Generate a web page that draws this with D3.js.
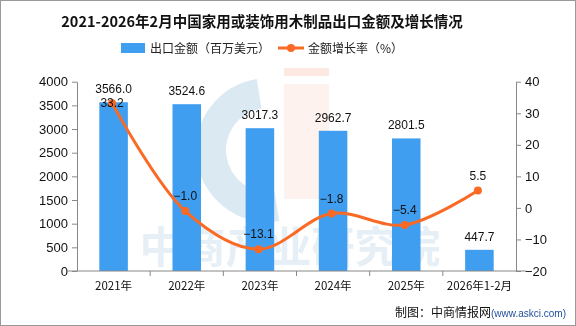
<!DOCTYPE html>
<html><head><meta charset="utf-8">
<script src="https://cdn.jsdelivr.net/npm/d3@7"></script>
<style>body{margin:0;background:#fff}svg{display:block}</style>
</head><body>
<script>
const categories = ["2021年","2022年","2023年","2024年","2025年","2026年1-2月"];
const exportValues = [3566.0, 3524.6, 3017.3, 2962.7, 2801.5, 447.7];
const growthRates = [33.2, -1.0, -13.1, -1.8, -5.4, 5.5];
const leftTicks = [0,500,1000,1500,2000,2500,3000,3500,4000];
const rightTicks = [-20,-10,0,10,20,30,40];
const titleText = "2021-2026年2月中国家用或装饰用木制品出口金额及增长情况";
const legendLabels = ["出口金额（百万美元）","金额增长率（%）"];

const W=576,H=326;
const cjk = "'Noto Sans CJK SC','Noto Sans',sans-serif";
const num = "'Liberation Sans',Arial,sans-serif";
const svg = d3.select("body").append("svg").attr("width",W).attr("height",H);
svg.append("rect").attr("x",0.5).attr("y",0.5).attr("width",W-1).attr("height",H-1).attr("fill","#fff").attr("stroke","#999");

const x0=77,x1=516,yTop=81.7,yBot=271;
const x = d3.scaleBand().domain(categories).range([x0,x1]).paddingInner(0.61).paddingOuter(0.305);
const xb = d3.scaleBand().domain(categories).range([x0,x1]);
const yL = d3.scaleLinear().domain([0,4000]).range([yBot,yTop]);
const yR = d3.scaleLinear().domain([-20,40]).range([yBot,yTop]);

// watermark
const wm = svg.append("g").attr("opacity",0.22);
wm.append("path").attr("d", d3.arc()({innerRadius:42,outerRadius:72,startAngle:-0.05*Math.PI,endAngle:-1.05*Math.PI}))
  .attr("transform","translate(268,150)").attr("fill","#5b9bc9");
wm.append("rect").attr("x",284).attr("y",68).attr("width",45).attr("height",8).attr("fill","#f2a07a");
wm.append("rect").attr("x",284).attr("y",84).attr("width",45).attr("height",115).attr("fill","#f2a07a").attr("opacity",0.6);
wm.append("text").attr("x",290).attr("y",263).attr("text-anchor","middle").attr("font-family",cjk)
  .attr("font-size",43).attr("font-weight","bold").attr("fill","#8fb6d4").text("中商产业研究院");

// title
svg.append("text").attr("x",W/2-26).attr("y",27).attr("text-anchor","middle").attr("font-family",cjk)
  .attr("font-weight","bold").attr("font-size",14.5).attr("fill","#111").text(titleText);

// legend
svg.append("rect").attr("x",121).attr("y",43).attr("width",24).attr("height",10).attr("fill","#3f9ef0");
svg.append("text").attr("x",150).attr("y",52.5).attr("font-family",cjk).attr("font-size",12).attr("fill","#222").text(legendLabels[0]);
svg.append("line").attr("x1",278).attr("x2",304).attr("y1",48).attr("y2",48).attr("stroke","#fa6a24").attr("stroke-width",3);
svg.append("circle").attr("cx",291).attr("cy",48).attr("r",4).attr("fill","#fa6a24");
svg.append("text").attr("x",308).attr("y",52.5).attr("font-family",cjk).attr("font-size",12).attr("fill","#222").text(legendLabels[1]);

// bars
svg.selectAll(".bar").data(exportValues).join("rect").attr("class","bar")
  .attr("x",(d,i)=>x(categories[i])).attr("width",x.bandwidth())
  .attr("y",d=>yL(d)).attr("height",d=>yBot-yL(d)).attr("fill","#3f9ef0");

// axes
const axL = svg.append("g").attr("transform",`translate(${x0},0)`).call(d3.axisLeft(yL).tickValues(leftTicks).tickSize(5).tickSizeOuter(0).tickFormat(d3.format("d")));
const axR = svg.append("g").attr("transform",`translate(${x1},0)`).call(d3.axisRight(yR).tickValues(rightTicks).tickSize(5).tickSizeOuter(0).tickFormat(d=>d<0?"\u2212"+(-d):d));
const axB = svg.append("g").attr("transform",`translate(0,${yBot})`).call(d3.axisBottom(xb).tickSize(0).tickSizeOuter(0));
[axL,axR,axB].forEach(a=>{a.selectAll("path,line").attr("stroke","#888");a.selectAll("text").attr("fill","#111");});
axL.selectAll("text").attr("font-family",num).attr("font-size",13).attr("dx",-1);
axR.selectAll("text").attr("font-family",num).attr("font-size",13).attr("dx",1);
axB.select(".domain").attr("d",`M${x0-10},0H${x1+10}`);
axB.selectAll("text").attr("font-family",cjk).attr("font-size",11.5).attr("dy","1.35em");
svg.append("g").selectAll("line").data(categories.slice(1)).join("line")
  .attr("x1",d=>xb(d)).attr("x2",d=>xb(d)).attr("y1",yBot).attr("y2",yBot+5).attr("stroke","#888");

// bar labels
svg.selectAll(".bl").data(exportValues).join("text").attr("class","bl")
  .attr("x",(d,i)=>x(categories[i])+x.bandwidth()/2).attr("y",d=>yL(d)-9)
  .attr("text-anchor","middle").attr("font-family",num).attr("font-size",12).attr("fill","#111")
  .text(d=>d.toFixed(1));

// line
const cx = (i)=>xb(categories[i])+xb.bandwidth()/2-1.5;
const line = d3.line().x((d,i)=>cx(i)).y(d=>yR(d)).curve(d3.curveCatmullRom.alpha(0.5));
svg.append("path").datum(growthRates).attr("d",line).attr("fill","none").attr("stroke","#fa6a24").attr("stroke-width",3);
svg.selectAll(".pt").data(growthRates).join("circle").attr("class","pt")
  .attr("cx",(d,i)=>cx(i)).attr("cy",d=>yR(d)).attr("r",4).attr("fill","#fa6a24");
svg.selectAll(".ll").data(growthRates).join("text").attr("class","ll")
  .attr("x",(d,i)=>cx(i)).attr("y",(d,i)=>i===0?yR(d)+4:yR(d)-11)
  .attr("text-anchor","middle").attr("font-family",num).attr("font-size",12).attr("fill","#111")
  .text(d=>(d<0?"\u2212"+(-d).toFixed(1):d.toFixed(1)));

// footer
const ft = svg.append("text").attr("x",566).attr("y",317).attr("text-anchor","end").attr("font-family",cjk).attr("font-size",12);
ft.append("tspan").attr("fill","#111").text("制图：中商情报网");
ft.append("tspan").attr("fill","#1f4e9a").attr("font-size",10).attr("font-family",num).text("(www.askci.com)");
</script>
</body></html>
